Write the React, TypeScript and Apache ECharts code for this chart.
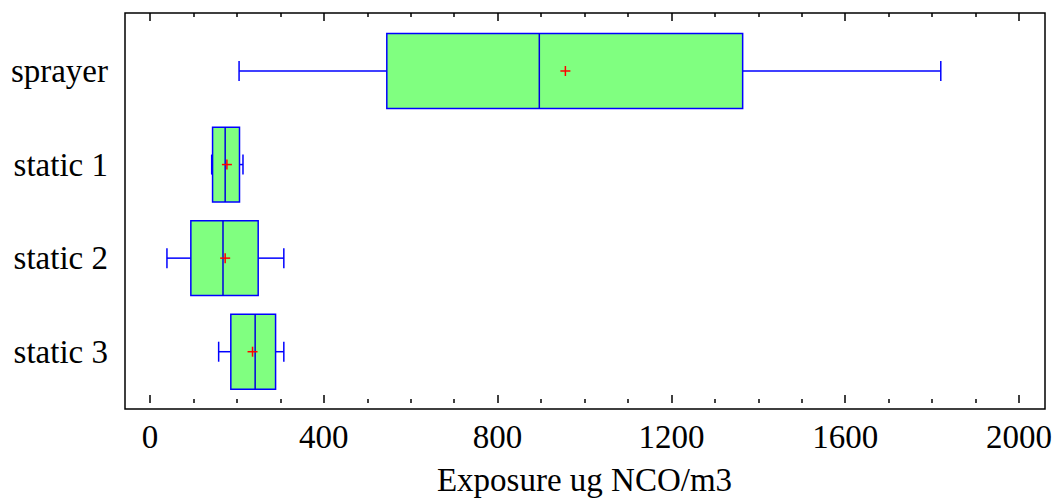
import React, { useEffect, useRef } from "react";
import * as echarts from "echarts";

const categories = ["sprayer", "static 1", "static 2", "static 3"];
const whiskerLow = [205, 142, 39, 158];
const q1Values = [545, 144, 94, 186];
const medianValues = [896, 173, 168, 242];
const q3Values = [1364, 206, 249, 289];
const whiskerHigh = [1820, 214, 308, 308];
const meanValues = [956, 177, 173, 236];
const xTicks = { min: 0, max: 2000, interval: 400 };
const xTitle = "Exposure ug NCO/m3";

const FONT = "'Liberation Serif', 'Times New Roman', serif";

export default function App() {
  const ref = useRef<HTMLDivElement>(null);
  useEffect(() => {
    document.body.style.margin = "0";
    const chart = echarts.init(ref.current!, null, { renderer: "svg" });
    const data = categories.map((_, i) => [
      i,
      whiskerLow[i],
      q1Values[i],
      medianValues[i],
      q3Values[i],
      whiskerHigh[i],
      meanValues[i],
    ]);
    const blue = "#0000ff";
    const renderItem = (params: any, api: any) => {
      const cat = api.value(0);
      const low = api.coord([api.value(1), cat]);
      const q1 = api.coord([api.value(2), cat]);
      const med = api.coord([api.value(3), cat]);
      const q3 = api.coord([api.value(4), cat]);
      const high = api.coord([api.value(5), cat]);
      const mean = api.coord([api.value(6), cat]);
      const band = api.size([0, 1])[1];
      const boxH = band * 0.8;
      const capH = band * 0.214;
      const cy = q1[1];
      const ls = { stroke: blue, lineWidth: 1.5 };
      const m = 5;
      return {
        type: "group",
        children: [
          { type: "line", shape: { x1: low[0], y1: cy, x2: q1[0], y2: cy }, style: ls },
          { type: "line", shape: { x1: q3[0], y1: cy, x2: high[0], y2: cy }, style: ls },
          { type: "line", shape: { x1: low[0], y1: cy - capH / 2, x2: low[0], y2: cy + capH / 2 }, style: ls },
          { type: "line", shape: { x1: high[0], y1: cy - capH / 2, x2: high[0], y2: cy + capH / 2 }, style: ls },
          {
            type: "rect",
            shape: { x: q1[0], y: cy - boxH / 2, width: q3[0] - q1[0], height: boxH },
            style: { fill: "#80ff80", stroke: blue, lineWidth: 1.5 },
          },
          { type: "line", shape: { x1: med[0], y1: cy - boxH / 2, x2: med[0], y2: cy + boxH / 2 }, style: { stroke: "#0000e0", lineWidth: 1.5 } },
          { type: "line", shape: { x1: mean[0] - m, y1: mean[1], x2: mean[0] + m, y2: mean[1] }, style: { stroke: "#ff0000", lineWidth: 1.5 } },
          { type: "line", shape: { x1: mean[0], y1: mean[1] - m, x2: mean[0], y2: mean[1] + m }, style: { stroke: "#ff0000", lineWidth: 1.5 } },
        ],
      };
    };
    const tickStyle = { lineStyle: { color: "#000", width: 1.5 } };
    chart.setOption({
      animation: false,
      grid: [
        { left: 125, right: 10, top: 13, bottom: 92, show: true, borderColor: "#000", borderWidth: 1.5, backgroundColor: "transparent" },
        { left: 150, right: 36, top: 13, bottom: 92 },
        { left: 150, right: 36, top: 24.2, height: 374.3 },
      ],
      xAxis: [
        { gridIndex: 0, type: "value", show: false },
        {
          gridIndex: 1,
          type: "value",
          min: xTicks.min,
          max: xTicks.max,
          interval: xTicks.interval,
          position: "bottom",
          axisLine: { show: false },
          axisTick: { show: true, inside: true, length: 8, ...tickStyle },
          minorTick: { show: true, splitNumber: 4, length: 4, ...tickStyle },
          splitLine: { show: false },
          axisLabel: { fontSize: 33, fontFamily: FONT, color: "#000", margin: 17, formatter: (v: number) => String(v) },
          name: xTitle,
          nameLocation: "middle",
          nameGap: 60,
          nameTextStyle: { fontSize: 33, fontFamily: FONT, color: "#000" },
        },
        {
          gridIndex: 1,
          type: "value",
          min: xTicks.min,
          max: xTicks.max,
          interval: xTicks.interval,
          position: "top",
          axisLine: { show: false },
          axisTick: { show: true, inside: true, length: 8, ...tickStyle },
          minorTick: { show: true, splitNumber: 4, length: 4, ...tickStyle },
          splitLine: { show: false },
          axisLabel: { show: false },
        },
        { gridIndex: 2, type: "value", min: xTicks.min, max: xTicks.max, show: false },
      ],
      yAxis: [
        { gridIndex: 0, type: "value", show: false },
        { gridIndex: 1, type: "value", show: false },
        {
          gridIndex: 2,
          type: "category",
          inverse: true,
          data: categories,
          axisLine: { show: false },
          axisTick: { show: false },
          splitLine: { show: false },
          axisLabel: { fontSize: 33, fontFamily: FONT, color: "#000", margin: 42 },
        },
      ],
      series: [
        {
          type: "custom",
          xAxisIndex: 3,
          yAxisIndex: 2,
          renderItem,
          encode: { x: [1, 2, 3, 4, 5, 6], y: 0 },
          data,
        },
      ],
    });
    return () => chart.dispose();
  }, []);
  return <div ref={ref} style={{ width: 1055, height: 501 }} />;
}
